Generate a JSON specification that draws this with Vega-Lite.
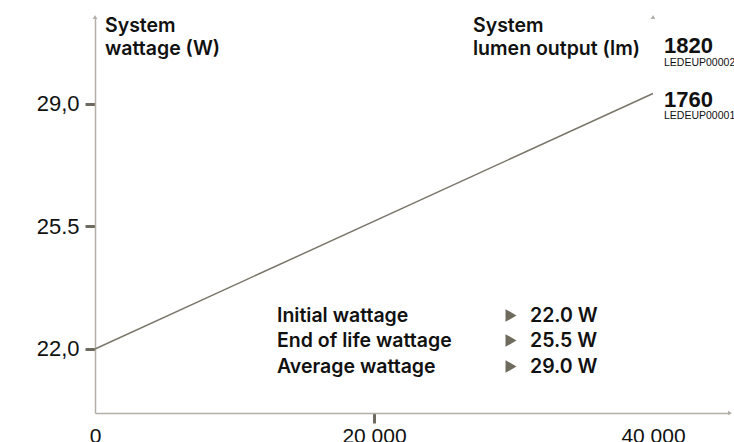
{
  "$schema": "https://vega.github.io/schema/vega-lite/v6.json",
  "width": 635,
  "height": 396,
  "autosize": {"type": "none"},
  "padding": {"left": 95, "top": 17, "right": 4, "bottom": 29},
  "background": "white",
  "config": {"view": {"stroke": null}, "font": "Liberation Sans"},
  "datasets": {
    "wattage": [
      {"hours": 0, "watts": 22.0},
      {"hours": 40000, "watts": 29.3}
    ],
    "arrows": [
      {"hours": 0, "watts": 31.4857, "shape": "triangle-up"},
      {"hours": 40000, "watts": 31.4857, "shape": "triangle-up"},
      {"hours": 45520, "watts": 20.1714, "shape": "triangle-right"}
    ],
    "headers": [
      {"hours": 717, "watts": 31.057, "text": "System"},
      {"hours": 717, "watts": 30.414, "text": "wattage (W)"},
      {"hours": 27097, "watts": 31.057, "text": "System"},
      {"hours": 27097, "watts": 30.414, "text": "lumen output (lm)"}
    ],
    "lumen": [
      {"hours": 40789, "watts": 30.457, "text": "1820"},
      {"hours": 40789, "watts": 28.914, "text": "1760"}
    ],
    "codes": [
      {"hours": 40789, "watts": 30.086, "text": "LEDEUP00002"},
      {"hours": 40789, "watts": 28.571, "text": "LEDEUP00001"}
    ],
    "legend": [
      {"label": "Initial wattage", "value": "22.0 W", "watts": 22.771},
      {"label": "End of life wattage", "value": "25.5 W", "watts": 22.057},
      {"label": "Average wattage", "value": "29.0 W", "watts": 21.314}
    ]
  },
  "layer": [
    {
      "data": {"name": "wattage"},
      "mark": {"type": "line", "color": "#7a766b", "strokeWidth": 1.5},
      "encoding": {
        "x": {
          "field": "hours", "type": "quantitative",
          "scale": {"domain": [0, 45520], "nice": false, "zero": false},
          "axis": {
            "values": [0, 20000, 40000],
            "title": null,
            "grid": false,
            "labelExpr": "replace(format(datum.value, ','), ',', ' ')",
            "labelFont": "Liberation Sans",
            "labelFontSize": 21,
            "labelColor": "#111111",
            "labelFlush": false,
            "labelOverlap": false,
            "labelPadding": 2,
            "domainColor": "#b3afa7",
            "domainWidth": 1.5,
            "tickSize": 10,
            "tickWidth": 3,
            "tickColor": "#6e6a60",
            "tickOpacity": {"condition": {"test": "datum.value === 20000", "value": 1}, "value": 0}
          }
        },
        "y": {
          "field": "watts", "type": "quantitative",
          "scale": {"domain": [20.1714, 31.4857], "nice": false, "zero": false},
          "axis": {
            "values": [22, 25.5, 29],
            "title": null,
            "grid": false,
            "labelExpr": "datum.value == 25.5 ? '25.5' : replace(format(datum.value, '.1f'), '.', ',')",
            "labelFont": "Liberation Sans",
            "labelFontSize": 22,
            "labelColor": "#111111",
            "labelPadding": 6,
            "labelFlush": false,
            "labelOverlap": false,
            "domainColor": "#b3afa7",
            "domainWidth": 1.5,
            "tickSize": 10,
            "tickWidth": 3,
            "tickColor": "#6e6a60"
          }
        }
      }
    },
    {
      "mark": {"type": "rule", "color": "#b3afa7", "strokeWidth": 1.5},
      "encoding": {
        "x": {"datum": 40000, "type": "quantitative", "scale": {"domain": [0, 45520], "nice": false, "zero": false}}
      }
    },
    {
      "mark": {"type": "rule", "color": "#8c887e", "strokeWidth": 1.5},
      "encoding": {
        "x": {"datum": 0, "type": "quantitative", "scale": {"domain": [0, 45520], "nice": false, "zero": false}},
        "x2": {"datum": 40000},
        "y": {"datum": 30.03, "type": "quantitative", "scale": {"domain": [20.1714, 31.4857], "nice": false, "zero": false}}
      }
    },
    {
      "data": {"name": "arrows"},
      "mark": {"type": "point", "filled": true, "color": "#b3afa7", "size": 22, "opacity": 1},
      "encoding": {
        "x": {"field": "hours", "type": "quantitative", "scale": {"domain": [0, 45520], "nice": false, "zero": false}},
        "y": {"field": "watts", "type": "quantitative", "scale": {"domain": [20.1714, 31.4857], "nice": false, "zero": false}},
        "shape": {"field": "shape", "type": "nominal", "scale": null}
      }
    },
    {
      "data": {"name": "headers"},
      "mark": {"type": "text", "align": "left", "baseline": "alphabetic", "font": "Inter", "fontWeight": 600, "fontSize": 19.5, "color": "#111111"},
      "encoding": {
        "x": {"field": "hours", "type": "quantitative", "scale": {"domain": [0, 45520], "nice": false, "zero": false}},
        "y": {"field": "watts", "type": "quantitative", "scale": {"domain": [20.1714, 31.4857], "nice": false, "zero": false}},
        "text": {"field": "text"}
      }
    },
    {
      "data": {"name": "lumen"},
      "mark": {"type": "text", "align": "left", "baseline": "alphabetic", "font": "Liberation Sans", "fontWeight": "bold", "fontSize": 22, "color": "#111111"},
      "encoding": {
        "x": {"field": "hours", "type": "quantitative", "scale": {"domain": [0, 45520], "nice": false, "zero": false}},
        "y": {"field": "watts", "type": "quantitative", "scale": {"domain": [20.1714, 31.4857], "nice": false, "zero": false}},
        "text": {"field": "text"}
      }
    },
    {
      "data": {"name": "codes"},
      "mark": {"type": "text", "align": "left", "baseline": "alphabetic", "font": "Liberation Sans", "fontSize": 10.5, "color": "#111111"},
      "encoding": {
        "x": {"field": "hours", "type": "quantitative", "scale": {"domain": [0, 45520], "nice": false, "zero": false}},
        "y": {"field": "watts", "type": "quantitative", "scale": {"domain": [20.1714, 31.4857], "nice": false, "zero": false}},
        "text": {"field": "text"}
      }
    },
    {
      "mark": {"type": "text", "align": "left", "baseline": "alphabetic", "font": "Liberation Sans", "fontSize": 19, "color": "#111111", "text": "t (h)"},
      "encoding": {
        "x": {"datum": 40717, "type": "quantitative", "scale": {"domain": [0, 45520], "nice": false, "zero": false}},
        "y": {"datum": 20.5, "type": "quantitative", "scale": {"domain": [20.1714, 31.4857], "nice": false, "zero": false}}
      }
    },
    {
      "data": {"name": "legend"},
      "mark": {"type": "text", "align": "left", "baseline": "alphabetic", "font": "Inter", "fontWeight": 600, "fontSize": 19.5, "color": "#111111"},
      "encoding": {
        "x": {"datum": 13047, "type": "quantitative", "scale": {"domain": [0, 45520], "nice": false, "zero": false}},
        "y": {"field": "watts", "type": "quantitative", "scale": {"domain": [20.1714, 31.4857], "nice": false, "zero": false}},
        "text": {"field": "label"}
      }
    },
    {
      "data": {"name": "legend"},
      "mark": {"type": "text", "align": "left", "baseline": "alphabetic", "font": "Inter", "fontWeight": 600, "fontSize": 19.5, "color": "#111111"},
      "encoding": {
        "x": {"datum": 31183, "type": "quantitative", "scale": {"domain": [0, 45520], "nice": false, "zero": false}},
        "y": {"field": "watts", "type": "quantitative", "scale": {"domain": [20.1714, 31.4857], "nice": false, "zero": false}},
        "text": {"field": "value"}
      }
    },
    {
      "data": {"name": "legend"},
      "mark": {"type": "point", "shape": "triangle-right", "filled": true, "color": "#6e6a5e", "size": 160, "opacity": 1, "yOffset": -6.5},
      "encoding": {
        "x": {"datum": 29821, "type": "quantitative", "scale": {"domain": [0, 45520], "nice": false, "zero": false}},
        "y": {"field": "watts", "type": "quantitative", "scale": {"domain": [20.1714, 31.4857], "nice": false, "zero": false}}
      }
    }
  ]
}
